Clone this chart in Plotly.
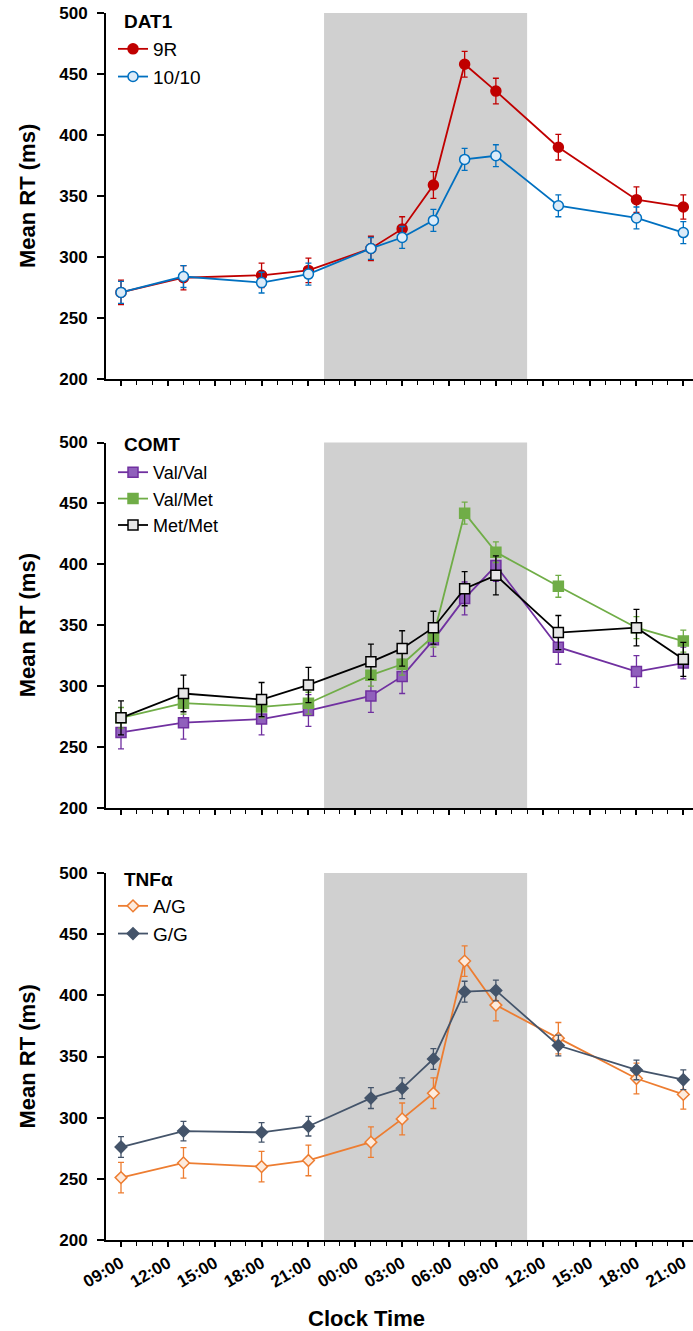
import plotly.graph_objects as go

# ---------------- data ----------------
# hours elapsed since 09:00 on day 1 (clock times: 09,13,18,21,01,03,05,07,09,13,18,21)
time_hours = [0, 4, 9, 12, 16, 18, 20, 22, 24, 28, 33, 36]
tick_hours = [0, 3, 6, 9, 12, 15, 18, 21, 24, 27, 30, 33, 36]
tick_labels = ["09:00", "12:00", "15:00", "18:00", "21:00", "00:00", "03:00",
               "06:00", "09:00", "12:00", "15:00", "18:00", "21:00"]
night_start = 13   # 22:00
night_end = 26     # 11:00

# DAT1
dat1_9r = [271, 283, 285, 289, 307, 323, 359, 458, 436, 390, 347, 341]
dat1_9r_se = [10, 10, 10, 10, 10, 10, 11, 10.5, 10.5, 10.5, 10.5, 10]
dat1_1010 = [271, 284, 279, 286, 307, 316, 330, 380, 383, 342, 332, 320]
dat1_1010_se = [9, 9, 8.5, 9, 9, 9, 9, 9, 9, 9, 9, 9]

# COMT
comt_valval = [262, 270, 273, 280, 292, 308, 338, 372, 399, 332, 312, 319]
comt_valval_se = [13.5, 13.5, 13, 13, 13.5, 14, 13.5, 13.5, 13, 14, 13, 13]
comt_valmet = [274, 286, 283, 286, 309, 318, 341, 442, 410, 382, 348, 337]
comt_valmet_se = [8.5, 9, 9, 9, 9, 9, 9, 9, 8.5, 9, 9, 9]
comt_metmet = [274, 294, 289, 301, 320, 331, 348, 380, 391, 344, 348, 322]
comt_metmet_se = [14, 15, 14, 14.5, 14.5, 14.5, 13.5, 14, 16, 14, 15, 14]

# TNFa
tnf_ag = [251, 263, 260, 265, 280, 299, 320, 428, 392, 365, 332, 319]
tnf_ag_se = [12.5, 12.5, 12.5, 12.5, 12.5, 13, 12.5, 12.5, 12.8, 12.8, 12.6, 12]
tnf_gg = [276, 289, 288, 293, 316, 324, 348, 403, 404, 359, 339, 331]
tnf_gg_se = [8.5, 8, 8, 8, 8.5, 8.5, 8.5, 8.5, 8.5, 8.5, 8, 8]

panel_titles = ["DAT1", "COMT", "TNFα"]

# ---------------- figure ----------------
FONT = "Liberation Sans, Arial, sans-serif"
W, H = 693, 1331
ML = 106
PW = W - ML
x_range = [-0.96, 36.62]
domains = [[1 - 379 / H, 1 - 13 / H],
           [1 - 808 / H, 1 - 442.5 / H],
           [1 - 1240 / H, 1 - 873 / H]]

fig = go.Figure()


def add_series(name, y, se, color, symbol, fill, size, axis_n, legend):
    xa = "x" if axis_n == 1 else f"x{axis_n}"
    ya = "y" if axis_n == 1 else f"y{axis_n}"
    fig.add_trace(go.Scatter(
        x=time_hours, y=y, name=name, mode="lines+markers",
        xaxis=xa, yaxis=ya, legend=legend,
        line=dict(color=color, width=1.8),
        marker=dict(symbol=symbol, size=size, color=fill,
                    line=dict(color=color, width=1.5)),
        error_y=dict(type="data", array=se, visible=True, color=color,
                     thickness=1.3, width=3),
        cliponaxis=False,
    ))


add_series("9R", dat1_9r, dat1_9r_se, "#C00000", "circle", "#C00000", 10, 1, "legend")
add_series("10/10", dat1_1010, dat1_1010_se, "#0070C0", "circle", "#DCEBF8", 10, 1, "legend")

add_series("Val/Val", comt_valval, comt_valval_se, "#7030A0", "square", "#9060BC", 10, 2, "legend2")
add_series("Val/Met", comt_valmet, comt_valmet_se, "#70AD47", "square", "#70AD47", 10, 2, "legend2")
add_series("Met/Met", comt_metmet, comt_metmet_se, "#000000", "square", "#E6E6E6", 10, 2, "legend2")

add_series("A/G", tnf_ag, tnf_ag_se, "#ED7D31", "diamond", "#FDEBDD", 9, 3, "legend3")
add_series("G/G", tnf_gg, tnf_gg_se, "#44546A", "diamond", "#44546A", 9, 3, "legend3")

layout = dict(
    width=W, height=H,
    margin=dict(l=ML, r=0, t=0, b=0),
    paper_bgcolor="white", plot_bgcolor="white",
    font=dict(family=FONT, color="black"),
    showlegend=True,
)

legend_tops = [30, 454, 887]
title_centers = [21, 444, 879]
legend_fonts = [19, 18, 19]
for i in range(3):
    n = i + 1
    xk = "xaxis" if n == 1 else f"xaxis{n}"
    yk = "yaxis" if n == 1 else f"yaxis{n}"
    ya = "y" if n == 1 else f"y{n}"
    layout[xk] = dict(
        domain=[0, 1], anchor=ya, range=x_range, tickmode="array",
        tickvals=tick_hours, ticktext=tick_labels,
        showticklabels=(n == 3), tickangle=-30,
        tickfont=dict(family=FONT, size=17, color="black", weight="bold"),
        ticks="outside", ticklen=5, tickwidth=1.8, tickcolor="black",
        minor=dict(tickmode="linear", tick0=0, dtick=1, ticks="outside",
                   ticklen=4, tickwidth=1.3, tickcolor="black"),
        showline=True, linecolor="black", linewidth=2,
        showgrid=False, zeroline=False, automargin=False,
    )
    # overlay axis to draw the inner half of the crossing major ticks
    ov = 3 + n
    layout[f"xaxis{ov}"] = dict(
        overlaying="x" if n == 1 else f"x{n}", anchor=ya, side="bottom",
        range=x_range, tickmode="array", tickvals=tick_hours,
        showticklabels=False, ticks="inside", ticklen=3, tickwidth=1.8,
        tickcolor="black", showline=False, showgrid=False, zeroline=False,
    )
    layout[yk] = dict(
        domain=domains[i], anchor="x" if n == 1 else f"x{n}",
        range=[200, 500], tickmode="array", tickvals=[200, 250, 300, 350, 400, 450, 500],
        tickfont=dict(family=FONT, size=17, color="black", weight="bold"),
        ticks="outside", ticklen=7, tickwidth=1.8, tickcolor="black",
        ticklabelstandoff=6,
        showline=True, linecolor="black", linewidth=2,
        showgrid=False, zeroline=False, automargin=False,
    )
    lk = "legend" if n == 1 else f"legend{n}"
    layout[lk] = dict(
        x=(113 - ML) / PW, xanchor="left",
        y=1 - legend_tops[i] / H, yanchor="top", yref="paper",
        bgcolor="rgba(0,0,0,0)", borderwidth=0,
        font=dict(family=FONT, size=legend_fonts[i], color="black"),
        tracegroupgap=0,
    )

layout["shapes"] = [
    dict(type="rect", xref="x" if n == 1 else f"x{n}",
         yref=("y" if n == 1 else f"y{n}") + " domain",
         x0=night_start, x1=night_end, y0=0, y1=1,
         fillcolor="#D0D0D0", line=dict(width=0), layer="below")
    for n in (1, 2, 3)
]

annotations = []
for i in range(3):
    annotations.append(dict(
        text="Mean RT (ms)", xref="paper", yref="paper",
        x=(27 - ML) / PW, y=sum(domains[i]) / 2,
        xanchor="center", yanchor="middle", textangle=-90, showarrow=False,
        font=dict(family=FONT, size=22, color="black", weight="bold"),
    ))
    annotations.append(dict(
        text=panel_titles[i], xref="paper", yref="paper",
        x=(122 - ML) / PW, y=1 - title_centers[i] / H,
        xanchor="left", yanchor="middle", showarrow=False,
        font=dict(family=FONT, size=19, color="black", weight="bold"),
    ))
annotations.append(dict(
    text="Clock Time", xref="paper", yref="paper",
    x=(366 - ML) / PW, y=1 - 1318 / H,
    xanchor="center", yanchor="middle", showarrow=False,
    font=dict(family=FONT, size=22, color="black", weight="bold"),
))
layout["annotations"] = annotations

fig.update_layout(**layout)
fig.write_html("out.html")
